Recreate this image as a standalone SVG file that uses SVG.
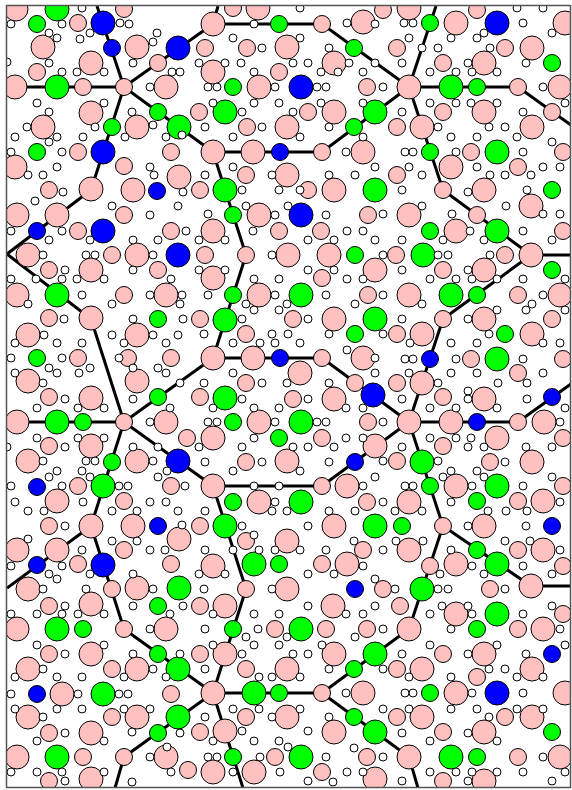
<svg xmlns="http://www.w3.org/2000/svg" width="572" height="790" viewBox="0 0 572 790">
<style>
circle{stroke:#000;stroke-width:1}
.pk{fill:#ffc0c0}
.gr{fill:#00ff00}
.bl{fill:#0000ff}
.wh{fill:#ffffff}
#connectors path{fill:none;stroke:#000;stroke-width:3;stroke-linejoin:round}
</style>
<defs>
<clipPath id="frame"><rect x="7" y="6" width="563" height="781"/></clipPath>
</defs>
<rect x="0" y="0" width="572" height="790" fill="#fff"/>
<g clip-path="url(#frame)">
<g id="connectors">
<path d="M7,87 H124 L97,6 M124,87 L213,24 L218,6 M213,24 H322 L409,87 L436,6 M409,87 H518 L571,125 M409,87 L322,152 H213 L124,87 L91,190 L7,254 L91,319 L124,422 H7 M124,422 L213,358 L246,255 L213,152 M213,358 H322 L409,422 L322,486 H213 L124,422 L91,526 L7,588 M91,526 L124,629 L213,693 H322 L409,629 L443,526 L409,422 H518 L571,384 M443,526 L531,586 H571 M409,422 L443,319 L531,255 H571 M531,255 L443,190 L409,87 M213,486 L246,589 L213,693 L124,757 L115,788 M213,693 L243,788 M322,693 L409,757 L418,788"/>
</g>
<g id="pink-large" class="pk">
<circle cx="16" cy="9" r="12"/><circle cx="137" cy="47" r="12"/><circle cx="43" cy="47" r="12"/><circle cx="91" cy="63" r="12"/><circle cx="15" cy="87" r="12"/><circle cx="166" cy="87" r="12"/><circle cx="91" cy="113" r="12"/><circle cx="137" cy="127" r="12"/><circle cx="43" cy="127" r="12"/><circle cx="15" cy="167" r="12"/><circle cx="179" cy="177" r="12"/><circle cx="91" cy="189" r="12"/><circle cx="133" cy="190" r="12"/>
<circle cx="213" cy="24" r="12"/><circle cx="258" cy="8" r="12"/><circle cx="287" cy="47" r="12"/><circle cx="334" cy="63" r="12"/><circle cx="213" cy="72" r="12"/><circle cx="259" cy="87" r="12"/><circle cx="334" cy="112" r="12"/><circle cx="287" cy="127" r="12"/><circle cx="213" cy="152" r="12"/><circle cx="253" cy="152" r="12"/><circle cx="363" cy="152" r="12"/><circle cx="287" cy="175" r="12"/><circle cx="334" cy="190" r="12"/><circle cx="363" cy="22" r="12"/>
<circle cx="409" cy="8" r="12"/><circle cx="456" cy="23" r="12"/><circle cx="565" cy="23" r="12"/><circle cx="532" cy="48" r="12"/><circle cx="484" cy="63" r="12"/><circle cx="409" cy="87" r="12"/><circle cx="560" cy="87" r="12"/><circle cx="484" cy="112" r="12"/><circle cx="422" cy="127" r="12"/><circle cx="532" cy="127" r="12"/><circle cx="451" cy="167" r="12"/><circle cx="484" cy="190" r="12"/>
<circle cx="17" cy="215" r="12"/><circle cx="57" cy="215" r="12"/><circle cx="28" cy="255" r="12"/><circle cx="91" cy="270" r="12"/><circle cx="137" cy="255" r="12"/><circle cx="17" cy="295" r="12"/><circle cx="166" cy="295" r="12"/><circle cx="91" cy="318" r="12"/><circle cx="28" cy="335" r="12"/><circle cx="137" cy="335" r="12"/><circle cx="28" cy="381" r="12"/><circle cx="91" cy="398" r="12"/><circle cx="137" cy="381" r="12"/>
<circle cx="259" cy="215" r="12"/><circle cx="213" cy="231" r="12"/><circle cx="288" cy="255" r="12"/><circle cx="329" cy="255" r="12"/><circle cx="375" cy="270" r="12"/><circle cx="213" cy="278" r="12"/><circle cx="259" cy="295" r="12"/><circle cx="334" cy="319" r="12"/><circle cx="213" cy="358" r="12"/><circle cx="253" cy="358" r="12"/><circle cx="363" cy="358" r="12"/><circle cx="300" cy="373" r="12"/><circle cx="334" cy="399" r="12"/>
<circle cx="409" cy="215" r="12"/><circle cx="456" cy="231" r="12"/><circle cx="531" cy="206" r="12"/><circle cx="531" cy="255" r="12"/><circle cx="484" cy="270" r="12"/><circle cx="409" cy="295" r="12"/><circle cx="560" cy="295" r="12"/><circle cx="484" cy="319" r="12"/><circle cx="422" cy="334" r="12"/><circle cx="532" cy="334" r="12"/><circle cx="422" cy="383" r="12"/><circle cx="484" cy="399" r="12"/>
<circle cx="17" cy="422" r="12"/><circle cx="166" cy="422" r="12"/><circle cx="91" cy="446" r="12"/><circle cx="28" cy="461" r="12"/><circle cx="137" cy="461" r="12"/><circle cx="57" cy="501" r="12"/><circle cx="91" cy="526" r="12"/><circle cx="133" cy="526" r="12"/><circle cx="17" cy="550" r="12"/><circle cx="57" cy="550" r="12"/><circle cx="179" cy="539" r="12"/><circle cx="28" cy="589" r="12"/><circle cx="137" cy="588" r="12"/>
<circle cx="259" cy="422" r="12"/><circle cx="213" cy="438" r="12"/><circle cx="375" cy="446" r="12"/><circle cx="287" cy="461" r="12"/><circle cx="213" cy="486" r="12"/><circle cx="259" cy="502" r="12"/><circle cx="347" cy="486" r="12"/><circle cx="334" cy="526" r="12"/><circle cx="287" cy="541" r="12"/><circle cx="213" cy="566" r="12"/><circle cx="347" cy="564" r="12"/><circle cx="287" cy="589" r="12"/>
<circle cx="409" cy="422" r="12"/><circle cx="451" cy="422" r="12"/><circle cx="544" cy="422" r="12"/><circle cx="497" cy="438" r="12"/><circle cx="532" cy="462" r="12"/><circle cx="456" cy="486" r="12"/><circle cx="409" cy="502" r="12"/><circle cx="543" cy="501" r="12"/><circle cx="484" cy="526" r="12"/><circle cx="409" cy="550" r="12"/><circle cx="543" cy="550" r="12"/><circle cx="456" cy="564" r="12"/><circle cx="531" cy="586" r="12"/>
<circle cx="91" cy="604" r="12"/><circle cx="166" cy="629" r="12"/><circle cx="17" cy="629" r="12"/><circle cx="91" cy="654" r="12"/><circle cx="28" cy="669" r="12"/><circle cx="137" cy="669" r="12"/><circle cx="62" cy="694" r="12"/><circle cx="28" cy="717" r="12"/><circle cx="137" cy="717" r="12"/><circle cx="91" cy="733" r="12"/><circle cx="17" cy="757" r="12"/><circle cx="166" cy="757" r="12"/><circle cx="91" cy="779" r="12"/>
<circle cx="225" cy="606" r="12"/><circle cx="333" cy="606" r="12"/><circle cx="225" cy="654" r="12"/><circle cx="334" cy="654" r="12"/><circle cx="287" cy="669" r="12"/><circle cx="213" cy="693" r="12"/><circle cx="363" cy="693" r="12"/><circle cx="287" cy="717" r="12"/><circle cx="225" cy="731" r="12"/><circle cx="334" cy="732" r="12"/><circle cx="213" cy="772" r="12"/><circle cx="254" cy="772" r="12"/><circle cx="375" cy="779" r="12"/>
<circle cx="409" cy="629" r="12"/><circle cx="456" cy="614" r="12"/><circle cx="543" cy="629" r="12"/><circle cx="484" cy="654" r="12"/><circle cx="422" cy="669" r="12"/><circle cx="532" cy="669" r="12"/><circle cx="456" cy="693" r="12"/><circle cx="565" cy="693" r="12"/><circle cx="422" cy="717" r="12"/><circle cx="532" cy="717" r="12"/><circle cx="484" cy="732" r="12"/><circle cx="409" cy="757" r="12"/><circle cx="560" cy="757" r="12"/><circle cx="484" cy="781" r="12"/>
</g>
<g id="pink-small" class="pk">
<circle cx="78" cy="23" r="8.5"/><circle cx="124" cy="9" r="8.5"/><circle cx="37" cy="72" r="8.5"/><circle cx="158" cy="63" r="8.5"/><circle cx="83" cy="87" r="8.5"/><circle cx="124" cy="87" r="8.5"/><circle cx="78" cy="152" r="8.5"/><circle cx="171" cy="152" r="8.5"/><circle cx="124" cy="166" r="8.5"/><circle cx="49" cy="190" r="8.5"/>
<circle cx="233" cy="8" r="8.5"/><circle cx="205" cy="48" r="8.5"/><circle cx="247" cy="48" r="8.5"/><circle cx="322" cy="24" r="8.5"/><circle cx="279" cy="72" r="8.5"/><circle cx="367" cy="87" r="8.5"/><circle cx="199" cy="112" r="8.5"/><circle cx="308" cy="112" r="8.5"/><circle cx="247" cy="127" r="8.5"/><circle cx="322" cy="152" r="8.5"/><circle cx="246" cy="175" r="8.5"/><circle cx="200" cy="190" r="8.5"/><circle cx="308" cy="190" r="8.5"/>
<circle cx="383" cy="10" r="8.5"/><circle cx="477" cy="10" r="8.5"/><circle cx="397" cy="48" r="8.5"/><circle cx="505" cy="48" r="8.5"/><circle cx="443" cy="63" r="8.5"/><circle cx="518" cy="87" r="8.5"/><circle cx="443" cy="112" r="8.5"/><circle cx="552" cy="112" r="8.5"/><circle cx="397" cy="127" r="8.5"/><circle cx="471" cy="152" r="8.5"/><circle cx="563" cy="152" r="8.5"/><circle cx="518" cy="167" r="8.5"/><circle cx="397" cy="175" r="8.5"/><circle cx="443" cy="190" r="8.5"/>
<circle cx="124" cy="215" r="8.5"/><circle cx="78" cy="231" r="8.5"/><circle cx="171" cy="231" r="8.5"/><circle cx="49" cy="270" r="8.5"/><circle cx="112" cy="255" r="8.5"/><circle cx="158" cy="270" r="8.5"/><circle cx="124" cy="295" r="8.5"/><circle cx="49" cy="318" r="8.5"/><circle cx="78" cy="358" r="8.5"/><circle cx="128" cy="358" r="8.5"/><circle cx="171" cy="358" r="8.5"/><circle cx="49" cy="397" r="8.5"/>
<circle cx="368" cy="215" r="8.5"/><circle cx="279" cy="231" r="8.5"/><circle cx="321" cy="231" r="8.5"/><circle cx="205" cy="255" r="8.5"/><circle cx="246" cy="255" r="8.5"/><circle cx="322" cy="278" r="8.5"/><circle cx="368" cy="295" r="8.5"/><circle cx="200" cy="319" r="8.5"/><circle cx="293" cy="319" r="8.5"/><circle cx="246" cy="334" r="8.5"/><circle cx="322" cy="358" r="8.5"/><circle cx="246" cy="383" r="8.5"/><circle cx="355" cy="383" r="8.5"/><circle cx="200" cy="397" r="8.5"/>
<circle cx="477" cy="215" r="8.5"/><circle cx="563" cy="231" r="8.5"/><circle cx="396" cy="255" r="8.5"/><circle cx="443" cy="270" r="8.5"/><circle cx="505" cy="255" r="8.5"/><circle cx="518" cy="295" r="8.5"/><circle cx="443" cy="319" r="8.5"/><circle cx="552" cy="319" r="8.5"/><circle cx="397" cy="334" r="8.5"/><circle cx="471" cy="359" r="8.5"/><circle cx="563" cy="359" r="8.5"/><circle cx="397" cy="383" r="8.5"/><circle cx="518" cy="373" r="8.5"/><circle cx="443" cy="397" r="8.5"/>
<circle cx="187" cy="438" r="8.5"/><circle cx="49" cy="446" r="8.5"/><circle cx="78" cy="486" r="8.5"/><circle cx="124" cy="501" r="8.5"/><circle cx="171" cy="486" r="8.5"/><circle cx="49" cy="526" r="8.5"/><circle cx="124" cy="550" r="8.5"/><circle cx="171" cy="564" r="8.5"/><circle cx="78" cy="564" r="8.5"/><circle cx="112" cy="589" r="8.5"/><circle cx="124" cy="422" r="8.5"/>
<circle cx="293" cy="399" r="8.5"/><circle cx="368" cy="422" r="8.5"/><circle cx="322" cy="438" r="8.5"/><circle cx="246" cy="462" r="8.5"/><circle cx="367" cy="502" r="8.5"/><circle cx="200" cy="526" r="8.5"/><circle cx="246" cy="541" r="8.5"/><circle cx="363" cy="550" r="8.5"/><circle cx="322" cy="564" r="8.5"/><circle cx="246" cy="589" r="8.5"/><circle cx="322" cy="486" r="8.5"/>
<circle cx="518" cy="422" r="8.5"/><circle cx="563" cy="438" r="8.5"/><circle cx="443" cy="446" r="8.5"/><circle cx="397" cy="461" r="8.5"/><circle cx="490" cy="462" r="8.5"/><circle cx="563" cy="486" r="8.5"/><circle cx="518" cy="501" r="8.5"/><circle cx="443" cy="526" r="8.5"/><circle cx="518" cy="550" r="8.5"/><circle cx="430" cy="566" r="8.5"/><circle cx="563" cy="566" r="8.5"/><circle cx="490" cy="589" r="8.5"/><circle cx="383" cy="589" r="8.5"/>
<circle cx="49" cy="606" r="8.5"/><circle cx="124" cy="629" r="8.5"/><circle cx="49" cy="654" r="8.5"/><circle cx="112" cy="669" r="8.5"/><circle cx="171" cy="694" r="8.5"/><circle cx="112" cy="717" r="8.5"/><circle cx="49" cy="733" r="8.5"/><circle cx="83" cy="757" r="8.5"/><circle cx="124" cy="757" r="8.5"/><circle cx="49" cy="781" r="8.5"/><circle cx="188" cy="770" r="8.5"/>
<circle cx="200" cy="606" r="8.5"/><circle cx="275" cy="629" r="8.5"/><circle cx="326" cy="629" r="8.5"/><circle cx="367" cy="629" r="8.5"/><circle cx="200" cy="654" r="8.5"/><circle cx="246" cy="669" r="8.5"/><circle cx="322" cy="693" r="8.5"/><circle cx="246" cy="717" r="8.5"/><circle cx="200" cy="732" r="8.5"/><circle cx="275" cy="757" r="8.5"/><circle cx="367" cy="757" r="8.5"/><circle cx="322" cy="772" r="8.5"/>
<circle cx="400" cy="606" r="8.5"/><circle cx="563" cy="614" r="8.5"/><circle cx="518" cy="629" r="8.5"/><circle cx="443" cy="654" r="8.5"/><circle cx="397" cy="669" r="8.5"/><circle cx="477" cy="677" r="8.5"/><circle cx="397" cy="717" r="8.5"/><circle cx="505" cy="717" r="8.5"/><circle cx="443" cy="732" r="8.5"/><circle cx="518" cy="757" r="8.5"/><circle cx="443" cy="781" r="8.5"/>
</g>
<g id="green-large" class="gr">
<circle cx="57" cy="9" r="12"/><circle cx="179" cy="127" r="12"/><circle cx="57" cy="87" r="12"/><circle cx="225" cy="112" r="12"/><circle cx="375" cy="112" r="12"/><circle cx="225" cy="190" r="12"/><circle cx="375" cy="190" r="12"/><circle cx="451" cy="87" r="12"/><circle cx="497" cy="152" r="12"/><circle cx="57" cy="295" r="12"/><circle cx="301" cy="295" r="12"/><circle cx="225" cy="320" r="12"/><circle cx="375" cy="319" r="12"/><circle cx="225" cy="398" r="12"/><circle cx="497" cy="231" r="12"/><circle cx="423" cy="255" r="12"/><circle cx="451" cy="295" r="12"/><circle cx="497" cy="359" r="12"/><circle cx="57" cy="422" r="12"/><circle cx="103" cy="486" r="12"/><circle cx="179" cy="588" r="12"/><circle cx="301" cy="422" r="12"/><circle cx="301" cy="502" r="12"/><circle cx="225" cy="526" r="12"/><circle cx="375" cy="526" r="12"/><circle cx="254" cy="564" r="12"/><circle cx="422" cy="462" r="12"/><circle cx="497" cy="486" r="12"/><circle cx="497" cy="564" r="12"/><circle cx="422" cy="589" r="12"/><circle cx="57" cy="629" r="12"/><circle cx="178" cy="669" r="12"/><circle cx="103" cy="694" r="12"/><circle cx="178" cy="717" r="12"/><circle cx="57" cy="757" r="12"/><circle cx="301" cy="629" r="12"/><circle cx="375" cy="654" r="12"/><circle cx="254" cy="693" r="12"/><circle cx="375" cy="732" r="12"/><circle cx="301" cy="757" r="12"/><circle cx="497" cy="614" r="12"/><circle cx="451" cy="757" r="12"/>
</g>
<g id="green-small" class="gr">
<circle cx="37" cy="24" r="8.5"/><circle cx="158" cy="112" r="8.5"/><circle cx="112" cy="127" r="8.5"/><circle cx="37" cy="152" r="8.5"/><circle cx="279" cy="24" r="8.5"/><circle cx="354" cy="48" r="8.5"/><circle cx="233" cy="87" r="8.5"/><circle cx="354" cy="127" r="8.5"/><circle cx="430" cy="23" r="8.5"/><circle cx="477" cy="87" r="8.5"/><circle cx="552" cy="63" r="8.5"/><circle cx="430" cy="152" r="8.5"/><circle cx="552" cy="190" r="8.5"/><circle cx="37" cy="358" r="8.5"/><circle cx="158" cy="319" r="8.5"/><circle cx="158" cy="397" r="8.5"/><circle cx="233" cy="215" r="8.5"/><circle cx="355" cy="255" r="8.5"/><circle cx="233" cy="295" r="8.5"/><circle cx="355" cy="334" r="8.5"/><circle cx="430" cy="231" r="8.5"/><circle cx="552" cy="270" r="8.5"/><circle cx="477" cy="295" r="8.5"/><circle cx="505" cy="334" r="8.5"/><circle cx="83" cy="422" r="8.5"/><circle cx="112" cy="462" r="8.5"/><circle cx="233" cy="422" r="8.5"/><circle cx="279" cy="438" r="8.5"/><circle cx="233" cy="502" r="8.5"/><circle cx="279" cy="564" r="8.5"/><circle cx="430" cy="486" r="8.5"/><circle cx="477" cy="501" r="8.5"/><circle cx="402" cy="526" r="8.5"/><circle cx="477" cy="550" r="8.5"/><circle cx="158" cy="606" r="8.5"/><circle cx="83" cy="629" r="8.5"/><circle cx="158" cy="654" r="8.5"/><circle cx="158" cy="733" r="8.5"/><circle cx="233" cy="629" r="8.5"/><circle cx="354" cy="669" r="8.5"/><circle cx="279" cy="693" r="8.5"/><circle cx="354" cy="717" r="8.5"/><circle cx="233" cy="757" r="8.5"/><circle cx="477" cy="629" r="8.5"/><circle cx="430" cy="693" r="8.5"/><circle cx="552" cy="732" r="8.5"/><circle cx="477" cy="757" r="8.5"/>
</g>
<g id="blue-large" class="bl">
<circle cx="103" cy="23" r="12"/><circle cx="178" cy="48" r="12"/><circle cx="103" cy="152" r="12"/><circle cx="301" cy="87" r="12"/><circle cx="103" cy="231" r="12"/><circle cx="178" cy="255" r="12"/><circle cx="301" cy="215" r="12"/><circle cx="373" cy="395" r="12"/><circle cx="178" cy="461" r="12"/><circle cx="103" cy="565" r="12"/><circle cx="497" cy="23" r="12"/><circle cx="497" cy="693" r="12"/>
</g>
<g id="blue-small" class="bl">
<circle cx="112" cy="48" r="8.5"/><circle cx="157" cy="191" r="8.5"/><circle cx="280" cy="152" r="8.5"/><circle cx="37" cy="231" r="8.5"/><circle cx="280" cy="358" r="8.5"/><circle cx="430" cy="359" r="8.5"/><circle cx="552" cy="397" r="8.5"/><circle cx="37" cy="487" r="8.5"/><circle cx="158" cy="526" r="8.5"/><circle cx="37" cy="565" r="8.5"/><circle cx="355" cy="462" r="8.5"/><circle cx="477" cy="422" r="8.5"/><circle cx="552" cy="526" r="8.5"/><circle cx="355" cy="589" r="8.5"/><circle cx="37" cy="694" r="8.5"/><circle cx="552" cy="654" r="8.5"/>
</g>
<g id="white-dots" class="wh">
<circle cx="11" cy="24" r="4"/><circle cx="62" cy="24" r="4"/><circle cx="82" cy="8" r="4"/><circle cx="90" cy="33" r="4"/><circle cx="80" cy="39" r="4"/><circle cx="49" cy="33" r="4"/><circle cx="57" cy="38" r="4"/><circle cx="120" cy="23" r="4"/><circle cx="129" cy="24" r="4"/><circle cx="157" cy="33" r="4"/><circle cx="153" cy="42" r="4"/><circle cx="133" cy="63" r="4"/><circle cx="150" cy="87" r="4"/><circle cx="104" cy="72" r="4"/><circle cx="77" cy="72" r="4"/><circle cx="62" cy="72" r="4"/><circle cx="49" cy="63" r="4"/><circle cx="7" cy="62" r="4"/><circle cx="37" cy="103" r="4"/><circle cx="49" cy="112" r="4"/><circle cx="104" cy="103" r="4"/><circle cx="132" cy="112" r="4"/><circle cx="153" cy="125" r="4"/><circle cx="166" cy="137" r="4"/><circle cx="27" cy="127" r="4"/><circle cx="15" cy="137" r="4"/><circle cx="57" cy="137" r="4"/><circle cx="49" cy="142" r="4"/><circle cx="83" cy="137" r="4"/><circle cx="95" cy="127" r="4"/><circle cx="125" cy="137" r="4"/><circle cx="62" cy="152" r="4"/><circle cx="11" cy="152" r="4"/><circle cx="57" cy="167" r="4"/><circle cx="28" cy="175" r="4"/><circle cx="43" cy="175" r="4"/><circle cx="150" cy="167" r="4"/><circle cx="154" cy="175" r="4"/><circle cx="183" cy="192" r="4"/><circle cx="63" cy="192" r="4"/><circle cx="172" cy="72" r="4"/><circle cx="180" cy="72" r="4"/><circle cx="182" cy="135" r="4"/>
<circle cx="254" cy="24" r="4"/><circle cx="300" cy="8" r="4"/><circle cx="347" cy="23" r="4"/><circle cx="375" cy="24" r="4"/><circle cx="233" cy="38" r="4"/><circle cx="262" cy="48" r="4"/><circle cx="300" cy="38" r="4"/><circle cx="329" cy="48" r="4"/><circle cx="349" cy="63" r="4"/><circle cx="199" cy="63" r="4"/><circle cx="225" cy="63" r="4"/><circle cx="241" cy="63" r="4"/><circle cx="293" cy="63" r="4"/><circle cx="308" cy="63" r="4"/><circle cx="321" cy="72" r="4"/><circle cx="338" cy="72" r="4"/><circle cx="363" cy="72" r="4"/><circle cx="254" cy="72" r="4"/><circle cx="375" cy="63" r="4"/><circle cx="208" cy="87" r="4"/><circle cx="217" cy="87" r="4"/><circle cx="275" cy="87" r="4"/><circle cx="317" cy="87" r="4"/><circle cx="326" cy="87" r="4"/><circle cx="213" cy="103" r="4"/><circle cx="254" cy="103" r="4"/><circle cx="279" cy="103" r="4"/><circle cx="293" cy="112" r="4"/><circle cx="321" cy="103" r="4"/><circle cx="363" cy="103" r="4"/><circle cx="242" cy="112" r="4"/><circle cx="205" cy="127" r="4"/><circle cx="233" cy="137" r="4"/><circle cx="262" cy="127" r="4"/><circle cx="300" cy="137" r="4"/><circle cx="329" cy="127" r="4"/><circle cx="346" cy="152" r="4"/><circle cx="363" cy="137" r="4"/><circle cx="233" cy="167" r="4"/><circle cx="205" cy="175" r="4"/><circle cx="272" cy="175" r="4"/><circle cx="329" cy="175" r="4"/><circle cx="355" cy="175" r="4"/><circle cx="375" cy="167" r="4"/><circle cx="242" cy="190" r="4"/><circle cx="279" cy="190" r="4"/><circle cx="300" cy="190" r="4"/>
<circle cx="404" cy="23" r="4"/><circle cx="413" cy="23" r="4"/><circle cx="451" cy="38" r="4"/><circle cx="477" cy="38" r="4"/><circle cx="484" cy="33" r="4"/><circle cx="523" cy="23" r="4"/><circle cx="552" cy="33" r="4"/><circle cx="543" cy="8" r="4"/><circle cx="517" cy="8" r="4"/><circle cx="409" cy="38" r="4"/><circle cx="422" cy="48" r="4"/><circle cx="438" cy="48" r="4"/><circle cx="490" cy="48" r="4"/><circle cx="402" cy="63" r="4"/><circle cx="430" cy="72" r="4"/><circle cx="456" cy="72" r="4"/><circle cx="468" cy="63" r="4"/><circle cx="472" cy="72" r="4"/><circle cx="497" cy="72" r="4"/><circle cx="526" cy="63" r="4"/><circle cx="383" cy="87" r="4"/><circle cx="543" cy="87" r="4"/><circle cx="430" cy="103" r="4"/><circle cx="456" cy="103" r="4"/><circle cx="471" cy="103" r="4"/><circle cx="497" cy="103" r="4"/><circle cx="523" cy="112" r="4"/><circle cx="565" cy="103" r="4"/><circle cx="402" cy="112" r="4"/><circle cx="438" cy="127" r="4"/><circle cx="489" cy="127" r="4"/><circle cx="505" cy="127" r="4"/><circle cx="451" cy="137" r="4"/><circle cx="477" cy="137" r="4"/><circle cx="517" cy="137" r="4"/><circle cx="405" cy="152" r="4"/><circle cx="413" cy="152" r="4"/><circle cx="456" cy="152" r="4"/><circle cx="523" cy="152" r="4"/><circle cx="552" cy="142" r="4"/><circle cx="409" cy="167" r="4"/><circle cx="422" cy="175" r="4"/><circle cx="477" cy="167" r="4"/><circle cx="490" cy="175" r="4"/><circle cx="505" cy="175" r="4"/><circle cx="531" cy="175" r="4"/><circle cx="543" cy="167" r="4"/><circle cx="560" cy="167" r="4"/><circle cx="402" cy="190" r="4"/><circle cx="468" cy="192" r="4"/><circle cx="527" cy="190" r="4"/>
<circle cx="35" cy="201" r="4"/><circle cx="112" cy="206" r="4"/><circle cx="150" cy="215" r="4"/><circle cx="178" cy="206" r="4"/><circle cx="11" cy="231" r="4"/><circle cx="49" cy="240" r="4"/><circle cx="62" cy="231" r="4"/><circle cx="90" cy="240" r="4"/><circle cx="133" cy="240" r="4"/><circle cx="158" cy="240" r="4"/><circle cx="186" cy="231" r="4"/><circle cx="43" cy="255" r="4"/><circle cx="86" cy="255" r="4"/><circle cx="95" cy="255" r="4"/><circle cx="153" cy="255" r="4"/><circle cx="65" cy="270" r="4"/><circle cx="77" cy="279" r="4"/><circle cx="104" cy="279" r="4"/><circle cx="133" cy="270" r="4"/><circle cx="171" cy="279" r="4"/><circle cx="11" cy="279" r="4"/><circle cx="36" cy="279" r="4"/><circle cx="62" cy="279" r="4"/><circle cx="82" cy="295" r="4"/><circle cx="150" cy="295" r="4"/><circle cx="182" cy="295" r="4"/><circle cx="28" cy="304" r="4"/><circle cx="112" cy="304" r="4"/><circle cx="180" cy="304" r="4"/><circle cx="64" cy="319" r="4"/><circle cx="133" cy="319" r="4"/><circle cx="183" cy="319" r="4"/><circle cx="44" cy="335" r="4"/><circle cx="15" cy="343" r="4"/><circle cx="57" cy="343" r="4"/><circle cx="82" cy="343" r="4"/><circle cx="112" cy="335" r="4"/><circle cx="124" cy="343" r="4"/><circle cx="153" cy="335" r="4"/><circle cx="166" cy="343" r="4"/><circle cx="178" cy="335" r="4"/><circle cx="11" cy="358" r="4"/><circle cx="62" cy="358" r="4"/><circle cx="119" cy="358" r="4"/><circle cx="49" cy="368" r="4"/><circle cx="57" cy="373" r="4"/><circle cx="90" cy="368" r="4"/><circle cx="15" cy="373" r="4"/><circle cx="43" cy="383" r="4"/><circle cx="79" cy="373" r="4"/><circle cx="133" cy="368" r="4"/><circle cx="166" cy="373" r="4"/><circle cx="158" cy="368" r="4"/><circle cx="180" cy="383" r="4"/>
<circle cx="208" cy="214" r="4"/><circle cx="246" cy="206" r="4"/><circle cx="275" cy="215" r="4"/><circle cx="288" cy="206" r="4"/><circle cx="326" cy="215" r="4"/><circle cx="253" cy="231" r="4"/><circle cx="225" cy="240" r="4"/><circle cx="199" cy="240" r="4"/><circle cx="308" cy="240" r="4"/><circle cx="334" cy="240" r="4"/><circle cx="347" cy="231" r="4"/><circle cx="363" cy="231" r="4"/><circle cx="375" cy="240" r="4"/><circle cx="272" cy="255" r="4"/><circle cx="199" cy="270" r="4"/><circle cx="225" cy="270" r="4"/><circle cx="254" cy="279" r="4"/><circle cx="279" cy="279" r="4"/><circle cx="308" cy="270" r="4"/><circle cx="334" cy="270" r="4"/><circle cx="347" cy="279" r="4"/><circle cx="363" cy="279" r="4"/><circle cx="208" cy="295" r="4"/><circle cx="275" cy="295" r="4"/><circle cx="326" cy="295" r="4"/><circle cx="355" cy="304" r="4"/><circle cx="246" cy="304" r="4"/><circle cx="254" cy="310" r="4"/><circle cx="287" cy="304" r="4"/><circle cx="279" cy="310" r="4"/><circle cx="242" cy="319" r="4"/><circle cx="308" cy="319" r="4"/><circle cx="204" cy="334" r="4"/><circle cx="272" cy="334" r="4"/><circle cx="288" cy="334" r="4"/><circle cx="329" cy="334" r="4"/><circle cx="233" cy="343" r="4"/><circle cx="260" cy="343" r="4"/><circle cx="275" cy="343" r="4"/><circle cx="300" cy="343" r="4"/><circle cx="347" cy="350" r="4"/><circle cx="375" cy="358" r="4"/><circle cx="233" cy="373" r="4"/><circle cx="204" cy="383" r="4"/><circle cx="262" cy="383" r="4"/><circle cx="287" cy="383" r="4"/><circle cx="329" cy="383" r="4"/><circle cx="375" cy="373" r="4"/>
<circle cx="383" cy="214" r="4"/><circle cx="422" cy="206" r="4"/><circle cx="452" cy="214" r="4"/><circle cx="506" cy="206" r="4"/><circle cx="543" cy="214" r="4"/><circle cx="560" cy="214" r="4"/><circle cx="443" cy="240" r="4"/><circle cx="470" cy="231" r="4"/><circle cx="484" cy="240" r="4"/><circle cx="523" cy="231" r="4"/><circle cx="552" cy="240" r="4"/><circle cx="402" cy="240" r="4"/><circle cx="383" cy="255" r="4"/><circle cx="438" cy="255" r="4"/><circle cx="448" cy="255" r="4"/><circle cx="490" cy="255" r="4"/><circle cx="402" cy="270" r="4"/><circle cx="430" cy="279" r="4"/><circle cx="456" cy="279" r="4"/><circle cx="468" cy="270" r="4"/><circle cx="472" cy="279" r="4"/><circle cx="497" cy="279" r="4"/><circle cx="523" cy="279" r="4"/><circle cx="565" cy="279" r="4"/><circle cx="383" cy="295" r="4"/><circle cx="422" cy="304" r="4"/><circle cx="532" cy="304" r="4"/><circle cx="543" cy="295" r="4"/><circle cx="565" cy="310" r="4"/><circle cx="402" cy="319" r="4"/><circle cx="468" cy="319" r="4"/><circle cx="497" cy="310" r="4"/><circle cx="526" cy="310" r="4"/><circle cx="383" cy="334" r="4"/><circle cx="410" cy="343" r="4"/><circle cx="451" cy="343" r="4"/><circle cx="477" cy="343" r="4"/><circle cx="489" cy="334" r="4"/><circle cx="543" cy="343" r="4"/><circle cx="560" cy="343" r="4"/><circle cx="405" cy="359" r="4"/><circle cx="413" cy="359" r="4"/><circle cx="456" cy="359" r="4"/><circle cx="523" cy="359" r="4"/><circle cx="409" cy="373" r="4"/><circle cx="451" cy="373" r="4"/><circle cx="477" cy="373" r="4"/><circle cx="543" cy="373" r="4"/><circle cx="438" cy="383" r="4"/><circle cx="468" cy="391" r="4"/><circle cx="498" cy="383" r="4"/><circle cx="527" cy="383" r="4"/>
<circle cx="37" cy="408" r="4"/><circle cx="65" cy="399" r="4"/><circle cx="78" cy="408" r="4"/><circle cx="104" cy="408" r="4"/><circle cx="133" cy="399" r="4"/><circle cx="150" cy="422" r="4"/><circle cx="170" cy="408" r="4"/><circle cx="37" cy="438" r="4"/><circle cx="65" cy="447" r="4"/><circle cx="7" cy="447" r="4"/><circle cx="78" cy="438" r="4"/><circle cx="104" cy="438" r="4"/><circle cx="133" cy="447" r="4"/><circle cx="158" cy="447" r="4"/><circle cx="43" cy="461" r="4"/><circle cx="86" cy="461" r="4"/><circle cx="95" cy="461" r="4"/><circle cx="153" cy="461" r="4"/><circle cx="49" cy="477" r="4"/><circle cx="57" cy="471" r="4"/><circle cx="82" cy="471" r="4"/><circle cx="90" cy="477" r="4"/><circle cx="158" cy="477" r="4"/><circle cx="167" cy="471" r="4"/><circle cx="11" cy="486" r="4"/><circle cx="62" cy="486" r="4"/><circle cx="119" cy="486" r="4"/><circle cx="128" cy="486" r="4"/><circle cx="15" cy="502" r="4"/><circle cx="28" cy="511" r="4"/><circle cx="44" cy="511" r="4"/><circle cx="83" cy="502" r="4"/><circle cx="112" cy="511" r="4"/><circle cx="137" cy="511" r="4"/><circle cx="150" cy="502" r="4"/><circle cx="166" cy="502" r="4"/><circle cx="178" cy="511" r="4"/><circle cx="185" cy="486" r="4"/><circle cx="65" cy="526" r="4"/><circle cx="28" cy="539" r="4"/><circle cx="82" cy="550" r="4"/><circle cx="112" cy="541" r="4"/><circle cx="137" cy="541" r="4"/><circle cx="150" cy="550" r="4"/><circle cx="165" cy="550" r="4"/><circle cx="182" cy="525" r="4"/><circle cx="11" cy="566" r="4"/><circle cx="62" cy="566" r="4"/><circle cx="49" cy="574" r="4"/><circle cx="57" cy="579" r="4"/><circle cx="90" cy="574" r="4"/><circle cx="86" cy="589" r="4"/><circle cx="133" cy="574" r="4"/><circle cx="153" cy="589" r="4"/><circle cx="43" cy="589" r="4"/>
<circle cx="213" cy="408" r="4"/><circle cx="242" cy="399" r="4"/><circle cx="254" cy="408" r="4"/><circle cx="279" cy="408" r="4"/><circle cx="308" cy="399" r="4"/><circle cx="346" cy="408" r="4"/><circle cx="363" cy="408" r="4"/><circle cx="208" cy="422" r="4"/><circle cx="217" cy="422" r="4"/><circle cx="275" cy="422" r="4"/><circle cx="317" cy="422" r="4"/><circle cx="326" cy="422" r="4"/><circle cx="254" cy="438" r="4"/><circle cx="346" cy="438" r="4"/><circle cx="363" cy="438" r="4"/><circle cx="199" cy="447" r="4"/><circle cx="242" cy="447" r="4"/><circle cx="293" cy="447" r="4"/><circle cx="308" cy="447" r="4"/><circle cx="334" cy="447" r="4"/><circle cx="205" cy="462" r="4"/><circle cx="262" cy="462" r="4"/><circle cx="300" cy="471" r="4"/><circle cx="329" cy="462" r="4"/><circle cx="233" cy="471" r="4"/><circle cx="375" cy="477" r="4"/><circle cx="254" cy="486" r="4"/><circle cx="279" cy="486" r="4"/><circle cx="363" cy="486" r="4"/><circle cx="275" cy="502" r="4"/><circle cx="272" cy="511" r="4"/><circle cx="287" cy="511" r="4"/><circle cx="205" cy="511" r="4"/><circle cx="329" cy="511" r="4"/><circle cx="355" cy="511" r="4"/><circle cx="242" cy="526" r="4"/><circle cx="308" cy="526" r="4"/><circle cx="254" cy="535" r="4"/><circle cx="233" cy="550" r="4"/><circle cx="259" cy="550" r="4"/><circle cx="275" cy="550" r="4"/><circle cx="300" cy="550" r="4"/><circle cx="326" cy="550" r="4"/><circle cx="354" cy="541" r="4"/><circle cx="205" cy="550" r="4"/><circle cx="225" cy="574" r="4"/><circle cx="199" cy="574" r="4"/><circle cx="308" cy="574" r="4"/><circle cx="334" cy="574" r="4"/><circle cx="363" cy="566" r="4"/><circle cx="375" cy="579" r="4"/><circle cx="272" cy="589" r="4"/><circle cx="204" cy="589" r="4"/>
<circle cx="402" cy="399" r="4"/><circle cx="430" cy="408" r="4"/><circle cx="456" cy="408" r="4"/><circle cx="468" cy="399" r="4"/><circle cx="497" cy="408" r="4"/><circle cx="527" cy="399" r="4"/><circle cx="565" cy="408" r="4"/><circle cx="383" cy="422" r="4"/><circle cx="560" cy="422" r="4"/><circle cx="430" cy="438" r="4"/><circle cx="456" cy="438" r="4"/><circle cx="471" cy="438" r="4"/><circle cx="468" cy="447" r="4"/><circle cx="484" cy="447" r="4"/><circle cx="526" cy="447" r="4"/><circle cx="552" cy="447" r="4"/><circle cx="402" cy="447" r="4"/><circle cx="383" cy="461" r="4"/><circle cx="438" cy="461" r="4"/><circle cx="477" cy="471" r="4"/><circle cx="505" cy="462" r="4"/><circle cx="443" cy="477" r="4"/><circle cx="451" cy="471" r="4"/><circle cx="484" cy="477" r="4"/><circle cx="552" cy="477" r="4"/><circle cx="405" cy="486" r="4"/><circle cx="413" cy="486" r="4"/><circle cx="472" cy="486" r="4"/><circle cx="523" cy="486" r="4"/><circle cx="383" cy="502" r="4"/><circle cx="451" cy="502" r="4"/><circle cx="506" cy="511" r="4"/><circle cx="527" cy="511" r="4"/><circle cx="560" cy="502" r="4"/><circle cx="395" cy="511" r="4"/><circle cx="422" cy="511" r="4"/><circle cx="488" cy="511" r="4"/><circle cx="468" cy="526" r="4"/><circle cx="526" cy="526" r="4"/><circle cx="383" cy="550" r="4"/><circle cx="396" cy="541" r="4"/><circle cx="423" cy="541" r="4"/><circle cx="451" cy="550" r="4"/><circle cx="505" cy="541" r="4"/><circle cx="530" cy="541" r="4"/><circle cx="560" cy="550" r="4"/><circle cx="440" cy="574" r="4"/><circle cx="472" cy="566" r="4"/><circle cx="484" cy="574" r="4"/><circle cx="523" cy="566" r="4"/><circle cx="552" cy="574" r="4"/><circle cx="438" cy="589" r="4"/><circle cx="448" cy="589" r="4"/><circle cx="505" cy="589" r="4"/><circle cx="395" cy="589" r="4"/>
<circle cx="11" cy="614" r="4"/><circle cx="37" cy="614" r="4"/><circle cx="62" cy="614" r="4"/><circle cx="65" cy="606" r="4"/><circle cx="104" cy="614" r="4"/><circle cx="78" cy="614" r="4"/><circle cx="133" cy="606" r="4"/><circle cx="170" cy="614" r="4"/><circle cx="183" cy="606" r="4"/><circle cx="150" cy="629" r="4"/><circle cx="37" cy="645" r="4"/><circle cx="65" cy="654" r="4"/><circle cx="104" cy="645" r="4"/><circle cx="133" cy="654" r="4"/><circle cx="180" cy="654" r="4"/><circle cx="43" cy="669" r="4"/><circle cx="15" cy="677" r="4"/><circle cx="57" cy="677" r="4"/><circle cx="82" cy="677" r="4"/><circle cx="124" cy="677" r="4"/><circle cx="153" cy="669" r="4"/><circle cx="166" cy="677" r="4"/><circle cx="11" cy="694" r="4"/><circle cx="78" cy="694" r="4"/><circle cx="119" cy="694" r="4"/><circle cx="128" cy="694" r="4"/><circle cx="15" cy="709" r="4"/><circle cx="57" cy="709" r="4"/><circle cx="82" cy="709" r="4"/><circle cx="124" cy="709" r="4"/><circle cx="150" cy="709" r="4"/><circle cx="43" cy="717" r="4"/><circle cx="132" cy="732" r="4"/><circle cx="37" cy="741" r="4"/><circle cx="65" cy="733" r="4"/><circle cx="104" cy="741" r="4"/><circle cx="180" cy="733" r="4"/><circle cx="167" cy="747" r="4"/><circle cx="150" cy="757" r="4"/><circle cx="11" cy="772" r="4"/><circle cx="37" cy="772" r="4"/><circle cx="62" cy="772" r="4"/><circle cx="65" cy="781" r="4"/><circle cx="132" cy="782" r="4"/><circle cx="104" cy="772" r="4"/><circle cx="171" cy="772" r="4"/>
<circle cx="213" cy="614" r="4"/><circle cx="254" cy="614" r="4"/><circle cx="279" cy="614" r="4"/><circle cx="308" cy="606" r="4"/><circle cx="346" cy="614" r="4"/><circle cx="363" cy="614" r="4"/><circle cx="375" cy="606" r="4"/><circle cx="205" cy="629" r="4"/><circle cx="258" cy="629" r="4"/><circle cx="287" cy="637" r="4"/><circle cx="355" cy="637" r="4"/><circle cx="213" cy="645" r="4"/><circle cx="246" cy="637" r="4"/><circle cx="254" cy="645" r="4"/><circle cx="279" cy="645" r="4"/><circle cx="242" cy="654" r="4"/><circle cx="308" cy="654" r="4"/><circle cx="293" cy="654" r="4"/><circle cx="322" cy="645" r="4"/><circle cx="329" cy="669" r="4"/><circle cx="205" cy="669" r="4"/><circle cx="272" cy="677" r="4"/><circle cx="300" cy="677" r="4"/><circle cx="259" cy="677" r="4"/><circle cx="233" cy="709" r="4"/><circle cx="259" cy="709" r="4"/><circle cx="272" cy="717" r="4"/><circle cx="300" cy="709" r="4"/><circle cx="329" cy="717" r="4"/><circle cx="346" cy="693" r="4"/><circle cx="205" cy="717" r="4"/><circle cx="242" cy="731" r="4"/><circle cx="308" cy="731" r="4"/><circle cx="213" cy="741" r="4"/><circle cx="254" cy="741" r="4"/><circle cx="279" cy="741" r="4"/><circle cx="288" cy="747" r="4"/><circle cx="326" cy="757" r="4"/><circle cx="354" cy="748" r="4"/><circle cx="208" cy="757" r="4"/><circle cx="217" cy="757" r="4"/><circle cx="260" cy="757" r="4"/><circle cx="233" cy="772" r="4"/><circle cx="280" cy="772" r="4"/><circle cx="308" cy="781" r="4"/><circle cx="347" cy="772" r="4"/><circle cx="363" cy="772" r="4"/><circle cx="333" cy="782" r="4"/>
<circle cx="442" cy="606" r="4"/><circle cx="468" cy="606" r="4"/><circle cx="472" cy="614" r="4"/><circle cx="523" cy="614" r="4"/><circle cx="552" cy="606" r="4"/><circle cx="430" cy="614" r="4"/><circle cx="451" cy="629" r="4"/><circle cx="560" cy="629" r="4"/><circle cx="383" cy="629" r="4"/><circle cx="430" cy="645" r="4"/><circle cx="402" cy="654" r="4"/><circle cx="468" cy="654" r="4"/><circle cx="497" cy="645" r="4"/><circle cx="526" cy="654" r="4"/><circle cx="565" cy="645" r="4"/><circle cx="383" cy="669" r="4"/><circle cx="409" cy="677" r="4"/><circle cx="451" cy="677" r="4"/><circle cx="489" cy="669" r="4"/><circle cx="505" cy="669" r="4"/><circle cx="517" cy="677" r="4"/><circle cx="543" cy="677" r="4"/><circle cx="405" cy="693" r="4"/><circle cx="413" cy="693" r="4"/><circle cx="472" cy="693" r="4"/><circle cx="523" cy="693" r="4"/><circle cx="383" cy="709" r="4"/><circle cx="409" cy="709" r="4"/><circle cx="451" cy="709" r="4"/><circle cx="477" cy="709" r="4"/><circle cx="489" cy="717" r="4"/><circle cx="517" cy="709" r="4"/><circle cx="543" cy="709" r="4"/><circle cx="402" cy="733" r="4"/><circle cx="430" cy="741" r="4"/><circle cx="468" cy="733" r="4"/><circle cx="497" cy="741" r="4"/><circle cx="383" cy="757" r="4"/><circle cx="543" cy="757" r="4"/><circle cx="430" cy="772" r="4"/><circle cx="456" cy="772" r="4"/><circle cx="468" cy="781" r="4"/><circle cx="472" cy="772" r="4"/><circle cx="497" cy="772" r="4"/><circle cx="523" cy="772" r="4"/><circle cx="552" cy="781" r="4"/><circle cx="402" cy="781" r="4"/><circle cx="565" cy="772" r="4"/>
</g>
</g>
<rect id="frame-border" x="6.5" y="5.5" width="564" height="782" fill="none" stroke="#555" stroke-width="1.5"/>
</svg>
